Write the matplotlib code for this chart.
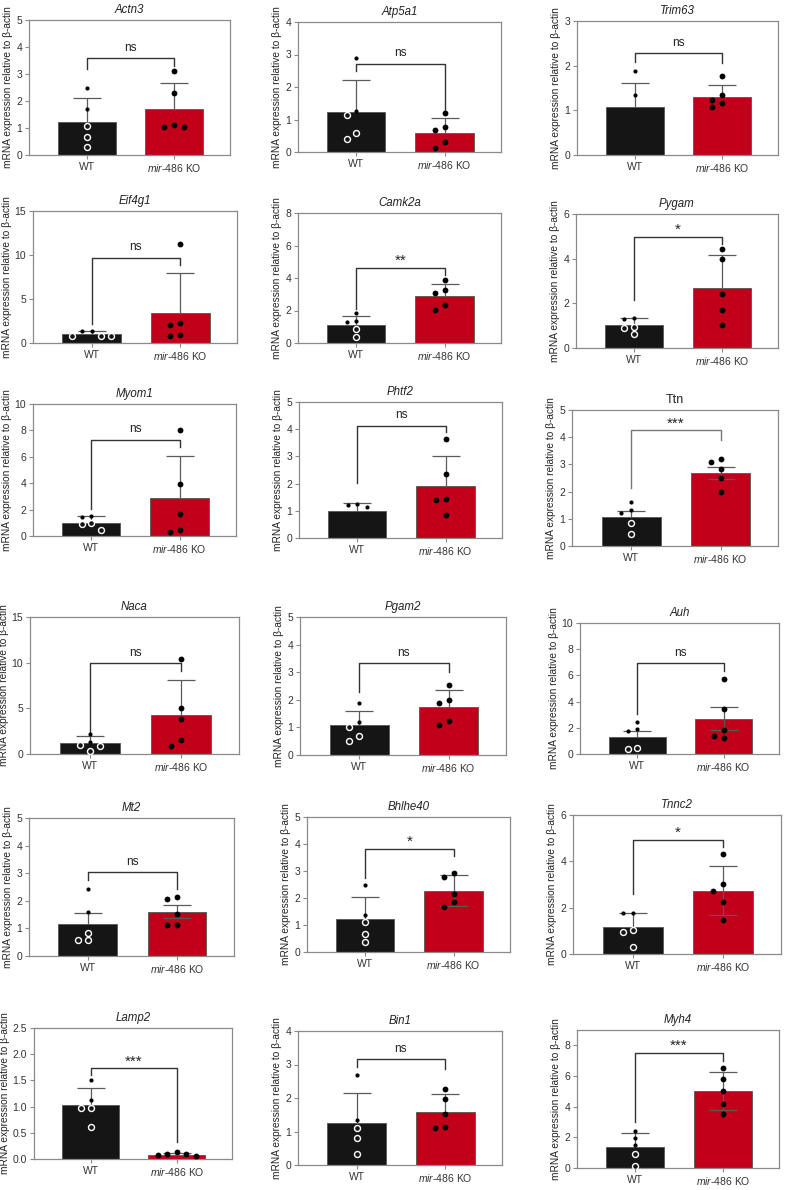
import matplotlib.pyplot as plt
import numpy as np

plt.rcParams['font.family'] = ['Liberation Sans', 'DejaVu Sans']
plt.rcParams['mathtext.fontset'] = 'custom'
plt.rcParams['mathtext.rm'] = 'Liberation Sans'
plt.rcParams['mathtext.it'] = 'Liberation Sans:italic'

# genes and axis ranges
genes = ['Actn3', 'Atp5a1', 'Trim63', 'Eif4g1', 'Camk2a', 'Pygam',
         'Myom1', 'Phtf2', 'Ttn', 'Naca', 'Pgam2', 'Auh',
         'Mt2', 'Bhlhe40', 'Tnnc2', 'Lamp2', 'Bin1', 'Myh4']
ymax = [5, 4, 3, 15, 8, 6, 10, 5, 5, 15, 5, 10, 5, 5, 6, 2.5, 4, 9]
ystep = [1, 1, 1, 5, 2, 2, 2, 1, 1, 5, 1, 2, 1, 1, 2, 0.5, 1, 2]
ytop_tick = [5, 4, 3, 15, 8, 6, 10, 5, 5, 15, 5, 10, 5, 5, 6, 2.5, 4, 8]

# bar heights and visible error bars
wt_mean = [1.23, 1.24, 1.08, 0.98, 1.13, 1.01, 1.02, 1.01, 1.08, 1.17, 1.07, 1.33,
           1.17, 1.21, 1.15, 1.03, 1.25, 1.37]
wt_err = [0.89, 0.99, 0.54, 0.42, 0.56, 0.33, 0.48, 0.26, 0.22, 0.76, 0.53, 0.43,
          0.40, 0.81, 0.64, 0.33, 0.90, 0.91]
ko_mean = [1.70, 0.60, 1.30, 3.45, 2.89, 2.68, 2.89, 1.93, 2.68, 4.27, 1.74, 2.69,
           1.60, 2.26, 2.74, 0.077, 1.59, 5.00]
ko_err_hi = [0.98, 0.44, 0.27, 4.45, 0.74, 1.49, 3.20, 1.10, 0.24, 3.87, 0.60, 0.86,
             0.23, 0.58, 1.08, 0.03, 0.52, 1.24]
ko_err_lo = [0, 0, 0, 0, 0, 0, 0, 0, 0.20, 0, 0, 0.82,
             0.23, 0.56, 1.05, 0, 0, 1.24]

# individual points
wt_points = [
    [2.49, 1.70, 1.07, 0.68, 0.31],
    [2.88, 1.27, 1.13, 0.58, 0.41],
    [1.89, 1.35],
    [1.40, 1.40, 0.80, 0.80, 0.80],
    [1.85, 1.32, 1.36, 0.85, 0.37],
    [1.34, 1.28, 0.95, 0.91, 0.63],
    [1.45, 1.55, 0.95, 0.89, 0.48],
    [1.21, 1.26, 1.13],
    [1.63, 1.32, 1.23, 0.83, 0.44],
    [2.23, 1.31, 1.0, 0.84, 0.36],
    [1.88, 1.20, 1.0, 0.70, 0.52],
    [2.43, 1.76, 1.92, 0.36, 0.43],
    [2.43, 1.61, 0.82, 0.57, 0.58],
    [2.47, 1.38, 1.1, 0.67, 0.37],
    [1.79, 1.79, 1.03, 0.93, 0.32],
    [1.51, 1.12, 0.98, 0.98, 0.61],
    [2.70, 1.35, 1.10, 0.80, 0.33],
    [2.43, 1.96, 1.48, 0.91, 0.15],
]
ko_points = [
    [3.12, 2.28, 1.04, 1.10, 1.04],
    [1.19, 0.78, 0.68, 0.30, 0.12],
    [1.76, 1.34, 1.23, 1.17, 1.07],
    [11.3, 2.1, 2.3, 0.8, 0.9],
    [3.88, 3.09, 3.24, 2.33, 2.04],
    [4.42, 3.99, 2.41, 1.71, 1.03],
    [8.02, 3.96, 1.70, 0.43, 0.30],
    [3.65, 2.36, 1.45, 1.39, 0.85],
    [3.19, 3.10, 2.82, 2.49, 1.97],
    [10.44, 5.0, 3.8, 1.5, 0.84],
    [2.55, 1.89, 2.01, 1.24, 1.09],
    [5.70, 3.40, 1.82, 1.23, 1.36],
    [2.13, 2.05, 1.51, 1.14, 1.14],
    [2.91, 2.78, 2.14, 1.85, 1.68],
    [4.32, 3.01, 2.74, 2.24, 1.46],
    [0.08, 0.13, 0.09, 0.10, 0.06],
    [2.26, 1.97, 1.51, 1.10, 1.13],
    [6.54, 5.83, 5.00, 4.15, 3.54],
]

# significance brackets: (bar height, left leg end, right leg end)
brackets = [(3.58, 3.2, 3.3), (2.72, 2.49, 1.30), (2.29, 2.08, 2.05),
            (9.7, 2.2, 8.9), (4.6, 2.12, 4.19), (4.99, 2.16, 4.64),
            (7.31, 2.08, 6.73), (4.13, 2.04, 3.88), (4.25, 2.12, 3.9),
            (9.93, 2.12, 9.05), (3.32, 2.30, 3.0), (6.93, 3.02, 6.34),
            (3.04, 2.76, 2.42), (3.83, 2.74, 3.54), (4.92, 2.58, 4.61),
            (1.73, 1.61, 0.33), (3.16, 2.93, 2.88), (7.5, 2.98, 7.0)]
sig = ['ns', 'ns', 'ns', 'ns', '**', '*', 'ns', 'ns', '***', 'ns', 'ns', 'ns',
       'ns', '*', '*', '***', 'ns', '***']

groups = ['WT', '$\\mathit{mir\u2010486}$ KO']

# panel boxes in pixels: left, top, right, bottom
boxes = [(29, 20, 230, 155), (298, 22, 501, 152), (577, 21, 778, 155),
         (33, 211, 237, 343), (298, 213, 501, 343), (576, 214, 778, 348),
         (33, 404, 236, 536), (299, 402, 502, 538), (572, 410, 778, 546),
         (30, 617, 239, 754), (300, 617, 506, 755), (580, 623, 779, 754),
         (29, 818, 234, 956), (307, 817, 510, 952), (573, 815, 781, 954),
         (34, 1028, 232, 1159), (298, 1031, 502, 1165), (577, 1030, 779, 1168)]

W, H = 785, 1190
spine_c = '#8a8a8a'
fig = plt.figure(figsize=(W / 100, H / 100), dpi=100)


def swarm(vals, ymax_, hpx, d=0.11):
    order = np.argsort(vals)[::-1]
    xs = np.zeros(len(vals))
    placed = []
    for k in order:
        ypx = vals[k] / ymax_ * hpx
        for off in [0, -d, d, -2 * d, 2 * d]:
            ok = all(np.hypot((off - xo) * 88, ypx - yo) >= 6.5 for xo, yo in placed)
            if ok:
                break
        xs[k] = off
        placed.append((off, ypx))
    return xs


def err(ax, x, m, lo, hi):
    c = ax.errorbar([x], [m], yerr=[[lo], [hi]], fmt='none', ecolor='#5a5a5a',
                    elinewidth=0.9, capsize=10, capthick=0.9, zorder=2)
    if lo == 0:
        c[1][0].set_visible(False)


for i, g in enumerate(genes):
    l, t, r, b = boxes[i]
    ax = fig.add_axes([l / W, 1 - b / H, (r - l) / W, (b - t) / H])
    hpx = b - t

    ax.bar([0, 1], [wt_mean[i], ko_mean[i]], width=0.66,
           color=['#151515', '#c1001a'], edgecolor='#555555', linewidth=0.6, zorder=1)
    err(ax, 0, wt_mean[i], 0, wt_err[i])
    err(ax, 1, ko_mean[i], ko_err_lo[i], ko_err_hi[i])

    wv = np.array(wt_points[i])
    wx = swarm(wv, ymax[i], hpx)
    for x, v in zip(wx, wv):
        if v < wt_mean[i]:
            ax.plot(x, v, 'o', ms=4.3, mfc='#151515', mec='white', mew=1.0, zorder=3)
        else:
            ax.plot(x, v, 'o', ms=3.0, mfc='black', mec='black', mew=0, zorder=3)
    kv = np.array(ko_points[i])
    kx = swarm(kv, ymax[i], hpx) + 1
    ax.plot(kx, kv, 'o', ms=4.2, mfc='black', mec='black', mew=0, ls='none', zorder=3)

    yb, yl, yr = brackets[i]
    bc = '#777777' if g == 'Ttn' else '#333333'
    ax.plot([0, 0, 1, 1], [yl, yb, yb, yr], color=bc, lw=1.0, zorder=2)
    if sig[i] == 'ns':
        ax.annotate(sig[i], (0.5, yb), xytext=(0, 3), textcoords='offset points',
                    ha='center', va='bottom', fontsize=8.5, color='#222222')
    else:
        ax.annotate(sig[i], (0.5, yb), xytext=(0, 0), textcoords='offset points',
                    ha='center', va='bottom', fontsize=11, color='#222222')

    ax.set_xlim(-0.66, 1.64)
    ax.set_ylim(0, ymax[i])
    ticks = np.arange(0, ytop_tick[i] + 1e-9, ystep[i])
    ax.set_yticks(ticks)
    if g == 'Lamp2':
        ax.set_yticklabels(['%.1f' % v for v in ticks])
    ax.set_xticks([0, 1])
    ax.set_xticklabels(groups)
    ax.tick_params(labelsize=7.5, colors='#333333', length=3, width=0.8,
                   pad=2)
    ax.tick_params(axis='both', color=spine_c)
    for s in ax.spines.values():
        s.set_color(spine_c)
        s.set_linewidth(0.9)
    ax.set_ylabel('mRNA expression relative to β-actin', fontsize=7.3,
                  color='#222222', labelpad=2)
    if g == 'Ttn':
        ax.set_title(g, fontsize=9, pad=5, color='#222222')
    else:
        ax.set_title(g, fontsize=8.3, style='italic', pad=5, color='#222222')

fig.savefig('out.png', dpi=100)
